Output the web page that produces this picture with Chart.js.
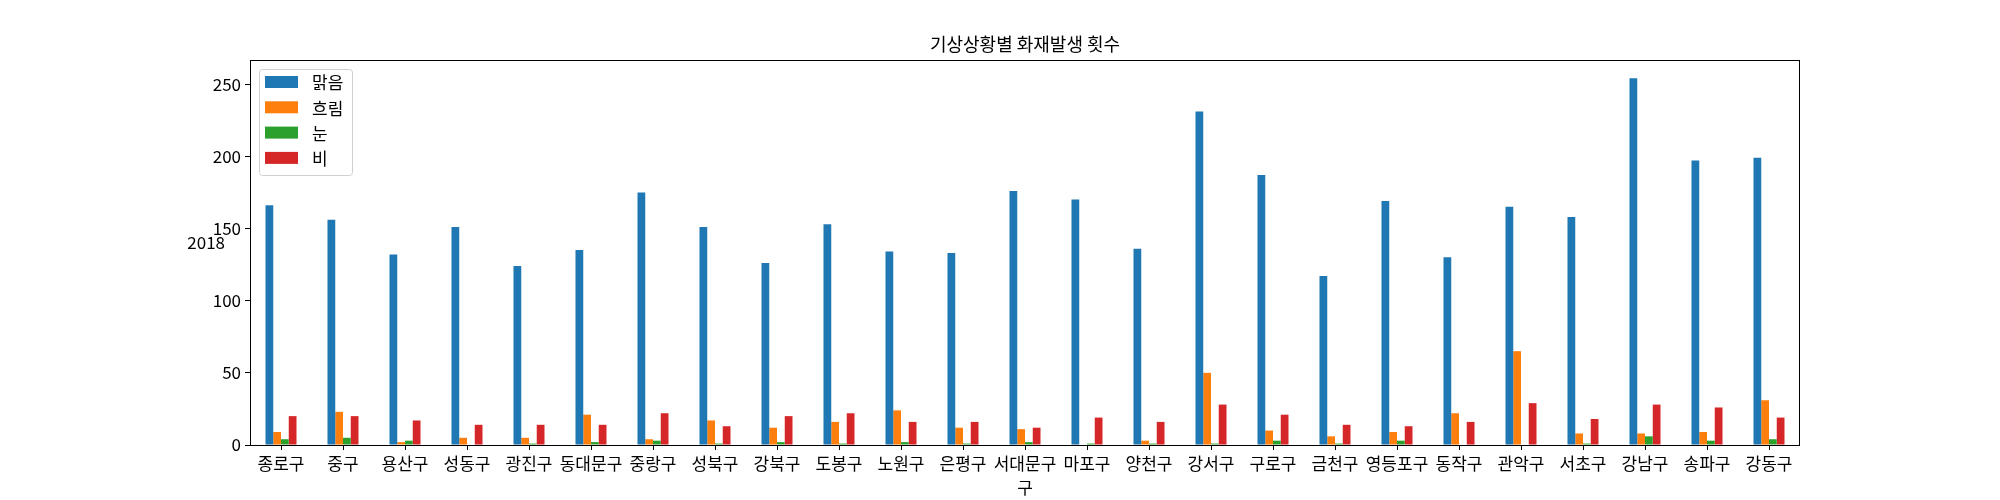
<!DOCTYPE html>
<html>
<head>
<meta charset="utf-8">
<script src="https://cdn.jsdelivr.net/npm/chart.js@4"></script>
<style>
    body { margin: 0; background: white; }
    #wrap { width: 2000px; height: 500px; position: relative; }
</style>
</head>
<body>
<div id="wrap"><canvas id="fireChart"></canvas></div>
<script>
// chart data
const districts = ['종로구', '중구', '용산구', '성동구', '광진구', '동대문구', '중랑구', '성북구', '강북구', '도봉구',
    '노원구', '은평구', ['서대문구', '구'], '마포구', '양천구', '강서구', '구로구', '금천구', '영등포구', '동작구',
    '관악구', '서초구', '강남구', '송파구', '강동구'];
const clearDays = [166, 156, 132, 151, 124, 135, 175, 151, 126, 153, 134, 133, 176, 170, 136, 231, 187, 117, 169, 130, 165, 158, 254, 197, 199];
const cloudyDays = [9, 23, 2, 5, 5, 21, 4, 17, 12, 16, 24, 12, 11, 0, 3, 50, 10, 6, 9, 22, 65, 8, 8, 9, 31];
const snowDays = [4, 5, 3, 0, 1, 2, 3, 1, 2, 1, 2, 1, 2, 1, 1, 1, 3, 1, 3, 0, 0, 1, 6, 3, 4];
const rainDays = [20, 20, 17, 14, 14, 14, 22, 13, 20, 22, 16, 16, 12, 19, 16, 28, 21, 14, 13, 16, 29, 18, 28, 26, 19];
const seriesNames = ['맑음', '흐림', '눈', '비'];
const yTicks = [0, 50, 100, 150, 200, 250];
const chartTitle = '기상상황별 화재발생 횟수';
const yLabel = '2018';

const FONT = '"Noto Sans CJK KR", "Noto Sans", sans-serif';
const colors = ['#1f77b4', '#ff7f0e', '#2ca02c', '#d62728'];
const allValues = [clearDays, cloudyDays, snowDays, rainDays];
const yMax = Math.max(...allValues.flat()) * 1.05;

// frame, title, y label and legend like matplotlib
const decorPlugin = {
    id: 'decor',
    afterDraw(chart) {
        const ctx = chart.ctx;
        const area = chart.chartArea;
        ctx.save();
        ctx.strokeStyle = '#000';
        ctx.lineWidth = 1;
        ctx.strokeRect(area.left + 0.5, area.top + 0.5, area.right - area.left - 1, area.bottom - area.top);

        ctx.fillStyle = '#000';
        ctx.font = '18px ' + FONT;
        ctx.textAlign = 'center';
        ctx.textBaseline = 'middle';
        ctx.fillText(chartTitle, (area.left + area.right) / 2, area.top - 16);

        ctx.font = '17px ' + FONT;
        ctx.textAlign = 'right';
        ctx.textBaseline = 'bottom';
        ctx.fillText(yLabel, area.left - 25, (area.top + area.bottom) / 2 - 1);

        // legend
        const lx = area.left + 9, ly = area.top + 9;
        ctx.fillStyle = 'rgba(255,255,255,0.8)';
        ctx.strokeStyle = '#d0d0d0';
        ctx.beginPath();
        ctx.roundRect(lx + 0.5, ly + 0.5, 93, 106, 3);
        ctx.fill();
        ctx.stroke();
        ctx.textAlign = 'left';
        ctx.textBaseline = 'middle';
        chart.data.datasets.forEach((ds, i) => {
            const cy = area.top + 22 + i * 25.3;
            ctx.fillStyle = ds.backgroundColor;
            ctx.fillRect(area.left + 15, cy - 6, 33, 12);
            ctx.fillStyle = '#000';
            ctx.fillText(ds.label, area.left + 62, cy + 1);
        });
        ctx.restore();
    }
};

const ctx = document.getElementById('fireChart').getContext('2d');
new Chart(ctx, {
    type: 'bar',
    data: {
        labels: districts,
        datasets: seriesNames.map((name, i) => ({
            label: name,
            data: allValues[i],
            backgroundColor: colors[i],
            borderWidth: 0,
            categoryPercentage: 0.5,
            barPercentage: 1.0
        }))
    },
    options: {
        responsive: true,
        maintainAspectRatio: false,
        animation: false,
        layout: {
            padding: { left: 200, right: 200, top: 60, bottom: 0 }
        },
        plugins: {
            legend: { display: false },
            title: { display: false },
            tooltip: { enabled: false }
        },
        scales: {
            x: {
                grid: {
                    display: true,
                    offset: false,
                    drawOnChartArea: false,
                    drawTicks: true,
                    tickLength: 5,
                    color: '#000'
                },
                border: { display: false },
                ticks: {
                    color: '#000',
                    maxRotation: 0,
                    autoSkip: false,
                    padding: 1,
                    font: { family: FONT, size: 17, lineHeight: 1.42 }
                },
                afterFit(scale) { scale.height = 55; }
            },
            y: {
                min: 0,
                max: yMax,
                grid: {
                    display: true,
                    drawOnChartArea: false,
                    drawTicks: true,
                    tickLength: 5,
                    color: '#000'
                },
                border: { display: false },
                ticks: {
                    color: '#000',
                    padding: 4,
                    font: { family: FONT, size: 17 }
                },
                afterBuildTicks(scale) {
                    scale.ticks = yTicks.map(v => ({ value: v }));
                },
                afterFit(scale) { scale.width = 50; }
            }
        }
    },
    plugins: [decorPlugin]
});
</script>
</body>
</html>
